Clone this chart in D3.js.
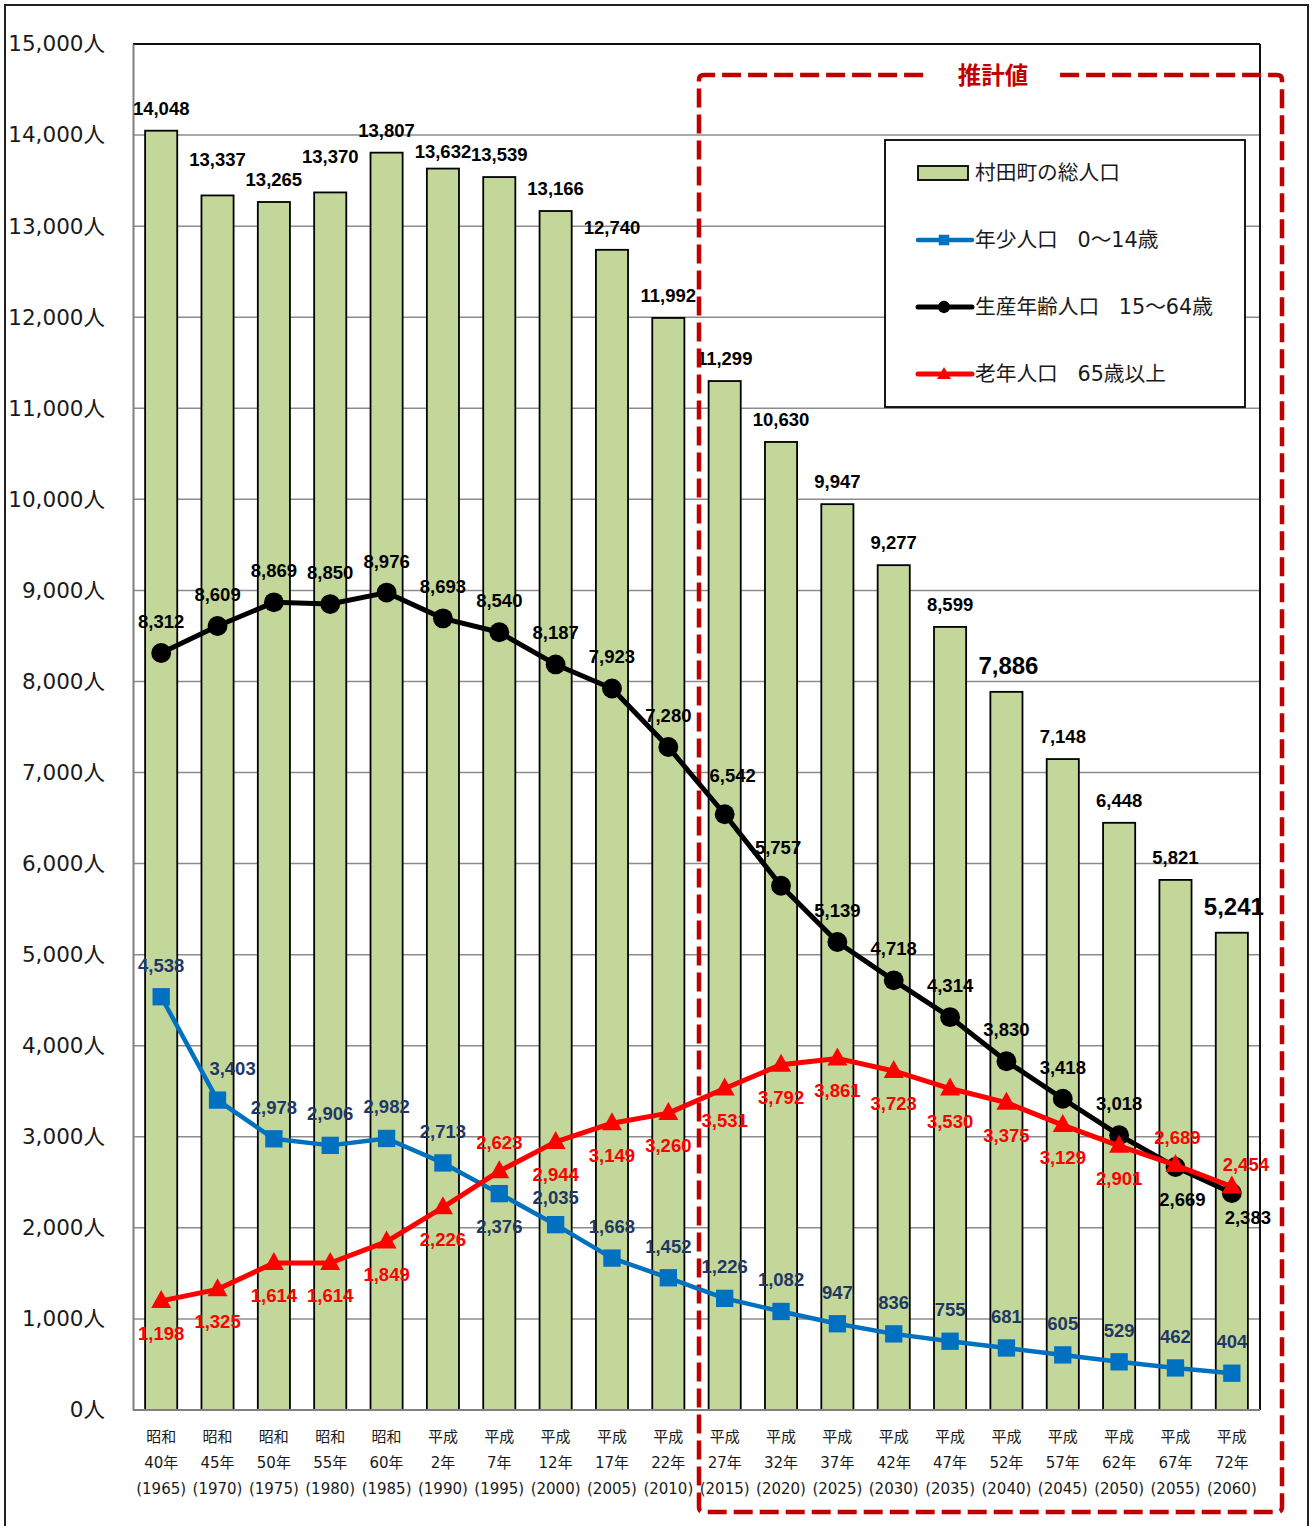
<!DOCTYPE html>
<html lang="ja">
<head>
<meta charset="utf-8">
<title>村田町の人口推移</title>
<script src="https://cdn.jsdelivr.net/npm/d3@7"></script>
<style>
  html, body { margin: 0; padding: 0; background: #fff; }
  svg { display: block; }
</style>
</head>
<body>
<script>
// ---- data ----
const eras = ["昭和","昭和","昭和","昭和","昭和","平成","平成","平成","平成","平成",
              "平成","平成","平成","平成","平成","平成","平成","平成","平成","平成"];
const eraYears = ["40年","45年","50年","55年","60年","2年","7年","12年","17年","22年",
                  "27年","32年","37年","42年","47年","52年","57年","62年","67年","72年"];
const years = [1965,1970,1975,1980,1985,1990,1995,2000,2005,2010,
               2015,2020,2025,2030,2035,2040,2045,2050,2055,2060];
const totalPop = [14048,13337,13265,13370,13807,13632,13539,13166,12740,11992,
                  11299,10630,9947,9277,8599,7886,7148,6448,5821,5241];
const youngPop = [4538,3403,2978,2906,2982,2713,2376,2035,1668,1452,
                  1226,1082,947,836,755,681,605,529,462,404];
const workingPop = [8312,8609,8869,8850,8976,8693,8540,8187,7923,7280,
                    6542,5757,5139,4718,4314,3830,3418,3018,2669,2383];
const elderlyPop = [1198,1325,1614,1614,1849,2226,2623,2944,3149,3260,
                    3531,3792,3861,3723,3530,3375,3129,2901,2689,2454];
const yTicks = [0,1000,2000,3000,4000,5000,6000,7000,8000,9000,10000,11000,12000,13000,14000,15000];
const legendLabels = ["村田町の総人口","年少人口\u00a0\u00a0\u00a00～14歳","生産年齢人口\u00a0\u00a0\u00a015～64歳","老年人口\u00a0\u00a0\u00a065歳以上"];
const estimateTitle = "推計値";

// label placement: "a" above the marker, "b" below
const youngSide   = ["a","a","a","a","a","a","b","a","a","a","a","a","a","a","a","a","a","a","a","a"];
const workingSide = ["a","a","a","a","a","a","a","a","a","a","a","a","a","a","a","a","a","a","b","b"];
const elderlySide = ["b","b","b","b","b","b","a","b","b","b","b","b","b","b","b","b","b","b","a","a"];

// ---- layout ----
const W = 1314, H = 1526;
const plot = {left: 133, top: 44, right: 1260, bottom: 1410};
const fmt = d3.format(",");
const sansJP = "'DejaVu Sans', 'Noto Sans CJK JP', sans-serif";
const arial = "'Liberation Sans', Arial, 'Noto Sans CJK JP', sans-serif";

const svg = d3.select("body").append("svg")
  .attr("width", W).attr("height", H)
  .attr("viewBox", `0 0 ${W} ${H}`);

// outer frame
svg.append("rect").attr("x", 5).attr("y", 5).attr("width", 1303).attr("height", 1560)
  .attr("fill", "#fff").attr("stroke", "#222").attr("stroke-width", 2);

const x = d3.scaleBand().domain(years).range([plot.left, plot.right]).padding(0);
const cx = d => x(d) + x.bandwidth() / 2;
const y = d3.scaleLinear().domain([0, 15000]).range([plot.bottom, plot.top]);
const barW = x.bandwidth() * 0.57;

// grid lines
svg.append("g").selectAll("line").data(yTicks.filter(t => t > 0 && t < 15000)).join("line")
  .attr("x1", plot.left).attr("x2", plot.right)
  .attr("y1", d => y(d)).attr("y2", d => y(d))
  .attr("stroke", "#8c8c8c").attr("stroke-width", 1.5);

// plot frame
svg.append("line").attr("x1", plot.left).attr("x2", plot.right).attr("y1", plot.top).attr("y2", plot.top)
  .attr("stroke", "#111").attr("stroke-width", 2);
svg.append("line").attr("x1", plot.right).attr("x2", plot.right).attr("y1", plot.top).attr("y2", plot.bottom)
  .attr("stroke", "#111").attr("stroke-width", 2);

// y axis
const yAxis = d3.axisLeft(y).tickValues(yTicks).tickSize(0).tickPadding(28)
  .tickFormat(d => fmt(d) + "人");
const gy = svg.append("g").attr("transform", `translate(${plot.left},0)`).call(yAxis);
gy.select(".domain").attr("stroke", "#808080").attr("stroke-width", 2);
gy.selectAll("text").attr("font-family", sansJP).attr("font-size", 21.5).attr("fill", "#1a1a1a");

// bars: total population
const bars = svg.append("g");
bars.selectAll("rect").data(years).join("rect")
  .attr("x", d => cx(d) - barW / 2)
  .attr("width", barW)
  .attr("y", (d, i) => y(totalPop[i]))
  .attr("height", (d, i) => plot.bottom - y(totalPop[i]))
  .attr("fill", "#c4d79b").attr("stroke", "#000").attr("stroke-width", 1.8);

// x axis line
svg.append("line").attr("x1", plot.left).attr("x2", plot.right).attr("y1", plot.bottom).attr("y2", plot.bottom)
  .attr("stroke", "#808080").attr("stroke-width", 2);

// x axis labels (three lines)
const xl = svg.append("g").attr("font-family", sansJP).attr("font-size", 15).attr("fill", "#1a1a1a")
  .attr("text-anchor", "middle");
years.forEach((yr, i) => {
  const t = xl.append("text").attr("x", cx(yr));
  t.append("tspan").attr("x", cx(yr)).attr("y", 1442).text(eras[i]);
  t.append("tspan").attr("x", cx(yr)).attr("y", 1468).text(eraYears[i]);
  t.append("tspan").attr("x", cx(yr)).attr("y", 1494).text("(" + yr + ")");
});

// bar value labels
const barLabelNudge = {1: -13, 3: -13, 5: 5};
const bigLabel = new Set([7886, 5241]);
svg.append("g").selectAll("text").data(years).join("text")
  .attr("x", (d, i) => cx(d) + (bigLabel.has(totalPop[i]) ? 2 : 0))
  .attr("y", (d, i) => y(totalPop[i]) - 16 + (barLabelNudge[i] || 0) - (bigLabel.has(totalPop[i]) ? 2 : 0))
  .attr("text-anchor", "middle")
  .attr("font-family", arial).attr("font-weight", "bold")
  .attr("font-size", (d, i) => bigLabel.has(totalPop[i]) ? 24 : 18.5)
  .attr("fill", "#000")
  .text((d, i) => fmt(totalPop[i]));

// estimate region (dashed frame)
const est = svg.append("g");
const bx0 = 699, bx1 = 1282, by0 = 75, by1 = 1512, r = 5;
est.append("path")
  .attr("d", `M${bx0},${by0 + r} Q${bx0},${by0} ${bx0 + r},${by0} L${bx1 - r},${by0} Q${bx1},${by0} ${bx1},${by0 + r} L${bx1},${by1 - r} Q${bx1},${by1} ${bx1 - r},${by1} L${bx0 + r},${by1} Q${bx0},${by1} ${bx0},${by1 - r} Z`)
  .attr("fill", "none").attr("stroke", "#c00000").attr("stroke-width", 4.5)
  .attr("stroke-dasharray", "19,7");
est.append("rect").attr("x", 926).attr("y", 62).attr("width", 132).attr("height", 26).attr("fill", "#fff");
est.append("text").attr("x", 993).attr("y", 84).attr("text-anchor", "middle")
  .attr("font-family", "'Noto Sans CJK JP', sans-serif").attr("font-weight", "bold")
  .attr("font-size", 23.5).attr("fill", "#c00000").text(estimateTitle);

// series lines
const series = [
  {values: youngPop, color: "#0070c0", labelColor: "#1f3864", width: 4.5, marker: "square", side: youngSide,
   nudge: {1: [15, 0], 7: [0, 4]}},
  {values: workingPop, color: "#000000", labelColor: "#000000", width: 5, marker: "circle", side: workingSide,
   nudge: {10: [8, -7], 11: [-3, -7], 18: [7, 0], 19: [16, -8]}},
  {values: elderlyPop, color: "#ff0000", labelColor: "#ff0000", width: 5, marker: "triangle", side: elderlySide,
   nudge: {6: [0, 3], 18: [2, 4], 19: [14, 9]}}
];

const lineGen = d3.line().x(d => cx(d.year)).y(d => y(d.v));

series.forEach(s => {
  const pts = years.map((yr, i) => ({year: yr, v: s.values[i], i}));
  const g = svg.append("g");
  g.append("path").datum(pts).attr("d", lineGen)
    .attr("fill", "none").attr("stroke", s.color).attr("stroke-width", s.width)
    .attr("stroke-linejoin", "round");
  const m = g.selectAll(".m").data(pts).join("path")
    .attr("transform", d => `translate(${cx(d.year)},${y(d.v)})`)
    .attr("fill", s.color);
  if (s.marker === "square") m.attr("d", d3.symbol(d3.symbolSquare, 300)());
  if (s.marker === "circle") m.attr("d", d3.symbol(d3.symbolCircle, 310)());
  if (s.marker === "triangle") m.attr("d", "M0,-11 L10,7 L-10,7 Z");
});

// series value labels (drawn after all lines)
series.forEach(s => {
  svg.append("g").selectAll("text").data(years).join("text")
    .attr("x", (d, i) => cx(d) + ((s.nudge[i] || [0, 0])[0]))
    .attr("y", (d, i) => y(s.values[i]) + (s.side[i] === "a" ? -25 : 39) + ((s.nudge[i] || [0, 0])[1]))
    .attr("text-anchor", "middle")
    .attr("font-family", arial).attr("font-weight", "bold").attr("font-size", 18.5)
    .attr("fill", s.labelColor)
    .text((d, i) => fmt(s.values[i]));
});

// legend
const lg = svg.append("g");
lg.append("rect").attr("x", 885).attr("y", 140).attr("width", 360).attr("height", 267)
  .attr("fill", "#fff").attr("stroke", "#000").attr("stroke-width", 1.8);
const legendRows = [173, 240, 307, 374];
lg.append("rect").attr("x", 918).attr("y", 166).attr("width", 50).attr("height", 14)
  .attr("fill", "#c4d79b").attr("stroke", "#000").attr("stroke-width", 1.8);
series.forEach((s, k) => {
  const yy = legendRows[k + 1];
  lg.append("line").attr("x1", 918).attr("x2", 972).attr("y1", yy).attr("y2", yy)
    .attr("stroke", s.color).attr("stroke-width", s.width).attr("stroke-linecap", "round");
  const mk = lg.append("path").attr("transform", `translate(944,${yy})`).attr("fill", s.color);
  if (s.marker === "square") mk.attr("d", d3.symbol(d3.symbolSquare, 110)());
  if (s.marker === "circle") mk.attr("d", d3.symbol(d3.symbolCircle, 120)());
  if (s.marker === "triangle") mk.attr("d", "M0,-7 L7,5 L-7,5 Z");
});
lg.selectAll("text").data(legendLabels).join("text")
  .attr("x", 975).attr("y", (d, i) => legendRows[i] + 7)
  .attr("font-family", sansJP).attr("font-size", 20.7).attr("fill", "#1a1a1a")
  .text(d => d);
</script>
</body>
</html>
